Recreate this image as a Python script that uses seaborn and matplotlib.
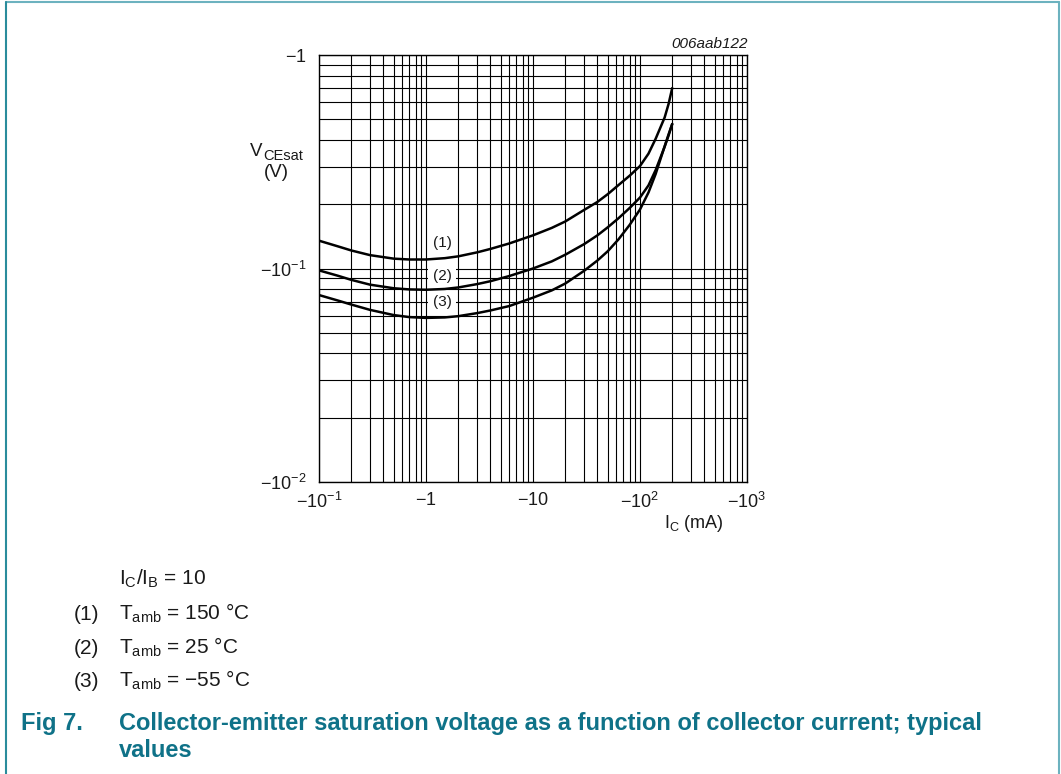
import numpy as np
import pandas as pd
import seaborn as sns
import matplotlib.pyplot as plt
from matplotlib.lines import Line2D
from matplotlib.ticker import NullFormatter

# collector current (mA, magnitude) and V_CEsat (V, magnitude)
ic_ma = [0.1, 0.15, 0.2, 0.3, 0.5, 0.7, 1, 1.5, 2, 3, 4, 6, 10, 15, 20, 30, 40, 50, 63, 80,
         100, 120, 140, 170, 185, 200]
vce_150 = [0.135, 0.127, 0.1215, 0.1155, 0.1112, 0.1102, 0.1102, 0.1118, 0.1140, 0.1190,
           0.1235, 0.131, 0.143, 0.155, 0.166, 0.188, 0.205, 0.223, 0.246, 0.272, 0.302,
           0.345, 0.405, 0.510, 0.590, 0.700]
vce_25 = [0.098, 0.0925, 0.0885, 0.0840, 0.0808, 0.0798, 0.0795, 0.0802, 0.0815, 0.0845,
          0.0872, 0.0922, 0.100, 0.108, 0.116, 0.130, 0.143, 0.156, 0.172, 0.192, 0.215,
          0.245, 0.289, 0.372, 0.420, 0.475]
vce_m55 = [0.0751, 0.0708, 0.0678, 0.0640, 0.0605, 0.0592, 0.0587, 0.0590, 0.0598, 0.0618,
           0.0636, 0.0667, 0.0730, 0.0790, 0.0850, 0.0975, 0.109, 0.1205, 0.137, 0.160,
           0.189, 0.227, 0.277, 0.374, 0.425, 0.475]
curve_names = ['(1)', '(2)', '(3)']

x_ticks = [0.1, 1, 10, 100, 1000]
x_tick_labels = [r'$-10^{-1}$', r'$-1$', r'$-10$', r'$-10^{2}$', r'$-10^{3}$']
y_ticks = [0.01, 0.1, 1]
y_tick_labels = [r'$-10^{-2}$', r'$-10^{-1}$', r'$-1$']

W, H = 1061, 774
teal = '#0f7288'
ink = '#1a1a1a'

sns.set_theme(style="white")
plt.rcParams['font.family'] = ['Liberation Sans', 'DejaVu Sans']
plt.rcParams['mathtext.fontset'] = 'custom'
plt.rcParams['mathtext.rm'] = 'Liberation Sans'
plt.rcParams['mathtext.it'] = 'Liberation Sans:italic'
plt.rcParams['mathtext.bf'] = 'Liberation Sans:bold'
plt.rcParams['mathtext.default'] = 'regular'

fig = plt.figure(figsize=(W / 100, H / 100), dpi=100)
ax = fig.add_axes([319 / W, 1 - 482 / H, 428 / W, 427 / H])

n = len(ic_ma)
data = pd.DataFrame({'Ic': ic_ma * 3,
                     'Vce': vce_150 + vce_25 + vce_m55,
                     'curve': [curve_names[0]] * n + [curve_names[1]] * n + [curve_names[2]] * n})

sns.lineplot(data=data, x='Ic', y='Vce', hue='curve', palette=['black'] * 3,
             estimator=None, sort=False, linewidth=1.8, legend=False, ax=ax, zorder=3)

ax.set_xscale('log')
ax.set_yscale('log')
ax.set_xlim(0.1, 1000)
ax.set_ylim(0.01, 1)
ax.set_xticks(x_ticks, x_tick_labels)
ax.set_yticks(y_ticks, y_tick_labels)
ax.xaxis.set_minor_formatter(NullFormatter())
ax.yaxis.set_minor_formatter(NullFormatter())
ax.grid(True, which='both', color='black', linewidth=0.8)
ax.set_axisbelow(True)
ax.tick_params(which='both', length=0, labelsize=13, colors=ink)
ax.tick_params(axis='x', pad=7)
ax.tick_params(axis='y', pad=9)
for s in ax.spines.values():
    s.set_color('black')
    s.set_linewidth(1.0)
ax.set_xlabel('')
ax.set_ylabel('')

# curve labels (white box hides the grid, curves stay on top)
for name, xl, yl in [('(1)', 1.41, 0.1316), ('(2)', 1.41, 0.0922), ('(3)', 1.41, 0.0697)]:
    ax.text(xl, yl, name, ha='center', va='center', fontsize=11, color=ink, zorder=2.5,
            bbox=dict(facecolor='white', edgecolor='none', pad=3.0))

def ftext(x, y, s, va='center', **kw):
    fig.text(x / W, 1 - y / H, s, va=va, **kw)

ftext(748, 44, '006aab122', ha='right', fontsize=11, style='italic', color=ink)
ftext(250, 156, 'V', va='baseline', ha='left', fontsize=13.5, color=ink)
ftext(263, 160, 'CEsat', va='baseline', ha='left', fontsize=10.5, color=ink)
ftext(276, 177, '(V)', va='baseline', ha='center', fontsize=13.5, color=ink)
ftext(694, 524, r'I$_C$ (mA)', ha='center', fontsize=13, color=ink)

body = 15
ftext(119, 585, r'I$_C$/I$_B$ = 10', va='baseline', ha='left', fontsize=body, color=ink)
ftext(74, 620, '(1)', va='baseline', ha='left', fontsize=body, color=ink)
ftext(119, 620, r'T$_{amb}$ = 150 °C', va='baseline', ha='left', fontsize=body, color=ink)
ftext(74, 654, '(2)', va='baseline', ha='left', fontsize=body, color=ink)
ftext(119, 654, r'T$_{amb}$ = 25 °C', va='baseline', ha='left', fontsize=body, color=ink)
ftext(74, 687, '(3)', va='baseline', ha='left', fontsize=body, color=ink)
ftext(119, 687, 'T$_{amb}$ = \u221255 °C', va='baseline', ha='left', fontsize=body, color=ink)

title = 17
ftext(21, 730, 'Fig 7.', va='baseline', ha='left', fontsize=title, fontweight='bold', color=teal)
ftext(119, 730, 'Collector-emitter saturation voltage as a function of collector current; typical',
      va='baseline', ha='left', fontsize=title, fontweight='bold', color=teal)
ftext(119, 757, 'values', va='baseline', ha='left', fontsize=title, fontweight='bold', color=teal)

# frame around the figure block
fig.add_artist(Line2D([6 / W, 1059 / W], [1 - 1.5 / H, 1 - 1.5 / H], color='#6cb2bf', linewidth=1.5))
fig.add_artist(Line2D([6 / W, 6 / W], [0, 1 - 1.5 / H], color='#2a8c9c', linewidth=1.5))
fig.add_artist(Line2D([1059 / W, 1059 / W], [0, 1 - 1.5 / H], color='#6cb2bf', linewidth=1.5))

fig.savefig('out.png', dpi=100, facecolor='white')
